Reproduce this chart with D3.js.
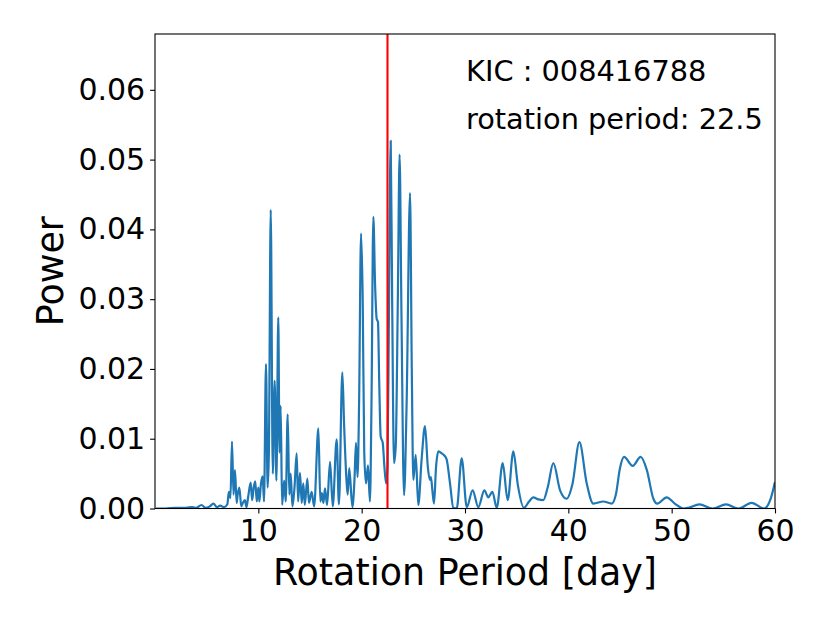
<!DOCTYPE html>
<html lang="en">
<head>
<meta charset="utf-8">
<title>rotation period periodogram</title>
<script src="https://d3js.org/d3.v7.min.js"></script>
<style>
  body{margin:0;background:#fff;font-family:"DejaVu Sans",sans-serif;}
  .tick text{font-family:"DejaVu Sans",sans-serif;font-size:30px;fill:#000;}
  .tick line{stroke:#000;stroke-width:1.1;}
</style>
</head>
<body>
<div id="chart"></div>
<script>
// periodogram: period (day) and power
var periods = [0.1, 1.0, 2.0, 3.0, 3.6, 4.0, 4.5, 4.9, 5.3, 5.65, 6.0, 6.3, 6.7, 7.0, 7.15, 7.3,
  7.45, 7.6, 7.74, 7.9, 8.0, 8.16, 8.35, 8.5, 8.7, 8.85, 9.0, 9.26, 9.4, 9.55, 9.7, 9.85,
  10.0, 10.1, 10.25, 10.42, 10.55, 10.74, 10.9, 11.02, 11.2, 11.4, 11.58, 11.75, 11.93, 12.05,
  12.16, 12.3, 12.5, 12.65, 12.84, 13.0, 13.13, 13.3, 13.5, 13.71, 13.85, 14.03, 14.2, 14.35,
  14.5, 14.74, 14.9, 15.16, 15.4, 15.81, 16.0, 16.15, 16.3, 16.45, 16.65, 16.94, 17.2, 17.58,
  17.8, 18.13, 18.3, 18.55, 18.65, 18.8, 19.1, 19.3, 19.45, 19.6, 19.75, 19.94, 20.1, 20.25,
  20.42, 20.61, 20.8, 20.95, 21.13, 21.3, 21.45, 21.58, 21.7, 21.84, 22.04, 22.2, 22.36, 22.5,
  22.65, 22.81, 22.95, 23.13, 23.3, 23.5, 23.67, 23.85, 24.1, 24.35, 24.68, 24.85, 25.0, 25.23,
  25.48, 25.8, 26.13, 26.4, 26.6, 26.7, 26.85, 27.0, 27.2, 27.43, 27.75, 28.0, 28.23, 28.55,
  28.87, 29.2, 29.68, 30.17, 30.74, 31.29, 31.87, 32.26, 32.65, 33.07, 33.65, 34.13, 34.68,
  35.1, 35.71, 36.2, 36.61, 37.1, 37.58, 38.0, 38.55, 39.2, 39.84, 40.4, 41.07, 41.78, 42.42,
  43.39, 44.2, 44.6, 45.0, 45.39, 46.23, 47.0, 47.6, 48.23, 48.6, 49.52, 50.3, 51.13, 51.6,
  52.68, 53.97, 55.26, 56.45, 57.74, 58.94, 59.6, 60.0]
var power = [0.0000, 0.0000, 0.0001, 0.0001, 0.0002, 0.0001, 0.0005, 0.0001, 0.0003, 0.0007, 0.0002, 0.0004, 0.0002, 0.0006, 0.0024, 0.0015,
  0.0096, 0.0020, 0.0055, 0.0008, 0.0020, 0.0030, 0.0003, 0.0008, 0.0012, 0.0002, 0.0015, 0.0037, 0.0012, 0.0030, 0.0039, 0.0010,
  0.0030, 0.0010, 0.0035, 0.0046, 0.0010, 0.0207, 0.0030, 0.0080, 0.0428, 0.0050, 0.0183, 0.0040, 0.0274, 0.0080,
  0.0147, 0.0005, 0.0040, 0.0010, 0.0135, 0.0020, 0.0050, 0.0003, 0.0030, 0.0079, 0.0010, 0.0051, 0.0008, 0.0036,
  0.0005, 0.0043, 0.0008, 0.0024, 0.0003, 0.0115, 0.0010, 0.0022, 0.0008, 0.0029, 0.0005, 0.0067, 0.0003, 0.0099,
  0.0006, 0.0195, 0.0120, 0.0036, 0.0020, 0.0058, 0.0002, 0.0040, 0.0094, 0.0045, 0.0150, 0.0394, 0.0300, 0.0080,
  0.0036, 0.0062, 0.0010, 0.0150, 0.0418, 0.0320, 0.0272, 0.0267, 0.0180, 0.0103, 0.0094, 0.0060, 0.0036, 0.0060,
  0.0300, 0.0527, 0.0300, 0.0065, 0.0090, 0.0300, 0.0507, 0.0280, 0.0019, 0.0150, 0.0452, 0.0200, 0.0041, 0.0077,
  0.0005, 0.0070, 0.0118, 0.0060, 0.0041, 0.0045, 0.0025, 0.0007, 0.0060, 0.0082, 0.0079, 0.0076, 0.0070, 0.0036,
  0.0001, 0.0000, 0.0072, 0.0002, 0.0026, 0.0002, 0.0026, 0.0016, 0.0024, 0.0001, 0.0065, 0.0012, 0.0082,
  0.0035, 0.0001, 0.0010, 0.0016, 0.0013, 0.0012, 0.0030, 0.0065, 0.0026, 0.0014, 0.0035, 0.0095, 0.0036, 0.0007,
  0.0010, 0.0007, 0.0020, 0.0058, 0.0074, 0.0061, 0.0074, 0.0055, 0.0014, 0.0007, 0.0016, 0.0007, 0.0000, 0.0001,
  0.0006, 0.0000, 0.0006, 0.0000, 0.0008, 0.0000, 0.0015, 0.0038]
var xTicks = [10, 20, 30, 40, 50, 60]
var yTicks = [0.00, 0.01, 0.02, 0.03, 0.04, 0.05, 0.06]
var rotPeriod = 22.5
var kicLabel = "KIC : 008416788"
var rotLabel = "rotation period: " + rotPeriod

var W = 830, H = 623
var mLeft = 155, mTop = 34, mRight = 775, mBottom = 508.5

var svg = d3.select("#chart").append("svg")
  .attr("width", W).attr("height", H)

var x = d3.scaleLinear().domain([0, 60]).range([mLeft, mRight])
var y = d3.scaleLinear().domain([0, 0.068]).range([mBottom, mTop])

var pts = periods.map(function(p, i){ return [p, power[i]] })

svg.append("clipPath").attr("id", "plotclip")
  .append("rect").attr("x", mLeft).attr("y", mTop)
  .attr("width", mRight - mLeft).attr("height", mBottom - mTop)

var line = d3.line()
  .x(function(d){ return x(d[0]) })
  .y(function(d){ return y(d[1]) })
  .curve(d3.curveMonotoneX)

svg.append("path")
  .datum(pts)
  .attr("clip-path", "url(#plotclip)")
  .attr("d", line)
  .attr("fill", "none")
  .attr("stroke", "#1f77b4")
  .attr("stroke-width", 2.2)
  .attr("stroke-linejoin", "round")

// marked period
svg.append("line")
  .attr("x1", x(rotPeriod)).attr("x2", x(rotPeriod))
  .attr("y1", mTop).attr("y2", mBottom)
  .attr("stroke", "red").attr("stroke-width", 2.1)

// axes
var xAxis = svg.append("g")
  .attr("transform", "translate(0," + mBottom + ")")
  .call(d3.axisBottom(x).tickValues(xTicks).tickSize(4.9).tickPadding(4.9).tickFormat(d3.format("d")))
var yAxis = svg.append("g")
  .attr("transform", "translate(" + mLeft + ",0)")
  .call(d3.axisLeft(y).tickValues(yTicks).tickSize(4.9).tickPadding(4.9).tickFormat(d3.format(".2f")))
xAxis.select(".domain").remove()
yAxis.select(".domain").remove()
xAxis.selectAll(".tick text").attr("dy", "0.75em")

// frame
svg.append("rect")
  .attr("x", mLeft).attr("y", mTop)
  .attr("width", mRight - mLeft).attr("height", mBottom - mTop)
  .attr("fill", "none").attr("stroke", "#000").attr("stroke-width", 1.1)

// labels
svg.append("text")
  .attr("x", (mLeft + mRight) / 2).attr("y", 585)
  .attr("text-anchor", "middle")
  .style("font-size", "36.4px")
  .text("Rotation Period [day]")
svg.append("text")
  .attr("transform", "translate(63," + ((mTop + mBottom) / 2) + ") rotate(-90)")
  .attr("text-anchor", "middle")
  .style("font-size", "36.4px")
  .text("Power")

svg.append("text")
  .attr("x", 466).attr("y", 81)
  .style("font-size", "28.8px")
  .text(kicLabel)
svg.append("text")
  .attr("x", 466).attr("y", 129)
  .style("font-size", "28.8px")
  .text(rotLabel)
</script>
</body>
</html>
